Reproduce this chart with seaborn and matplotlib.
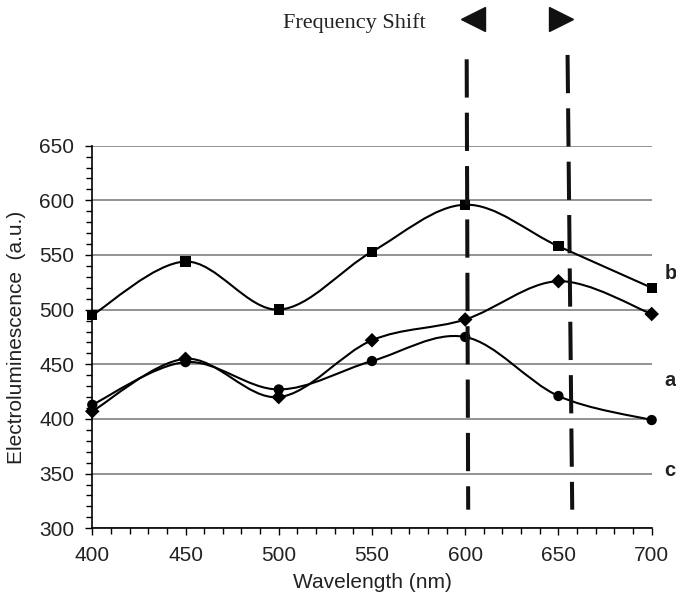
import numpy as np
import pandas as pd
import matplotlib
matplotlib.use("Agg")
import matplotlib.pyplot as plt
import seaborn as sns
from matplotlib.path import Path
from matplotlib.patches import PathPatch

# values
wavelength = [400, 450, 500, 550, 600, 650, 700]
square_vals = [495, 544, 500, 553, 596, 558, 520]
diamond_vals = [407, 455, 420, 472, 491, 526, 496]
circle_vals = [413, 452, 427, 453, 475, 421, 399]

series_names = ["square", "diamond", "circle"]
series_markers = {"square": "s", "diamond": "D", "circle": "o"}

curve_labels = ["b", "a", "c"]
label_y = [533, 435, 353]

shift_lines_x = [(600.8, 601.6), (654.9, 657.4)]
shift_lines_y = [(729, 317), (733, 317)]


def smooth_path(xs, ys):
    # Excel style smoothed line: cubic bezier with catmull-rom handles
    pts = np.column_stack([xs, ys]).astype(float)
    n = len(pts)
    verts = [pts[0]]
    codes = [Path.MOVETO]
    for i in range(n - 1):
        p_prev = pts[max(i - 1, 0)]
        p0 = pts[i]
        p1 = pts[i + 1]
        p_next = pts[min(i + 2, n - 1)]
        c1 = p0 + (p1 - p_prev) / 6.0
        c2 = p1 - (p_next - p0) / 6.0
        verts += [c1, c2, p1]
        codes += [Path.CURVE4] * 3
    return Path(verts, codes)


df = pd.DataFrame({
    "wavelength": wavelength * 3,
    "value": square_vals + diamond_vals + circle_vals,
    "series": np.repeat(series_names, len(wavelength)),
})

sns.set_theme(style="white")
plt.rcParams["font.family"] = ["Liberation Sans", "DejaVu Sans"]

fig = plt.figure(figsize=(6.76, 5.98), dpi=100)
ax = fig.add_axes([0.1365, 0.1166, 0.8275, 0.6398])

for name in series_names:
    sub = df[df["series"] == name]
    patch = PathPatch(smooth_path(sub["wavelength"], sub["value"]),
                      facecolor="none", edgecolor="black", lw=1.5, zorder=3,
                      clip_on=False)
    ax.add_patch(patch)

sns.scatterplot(data=df, x="wavelength", y="value", style="series",
                markers=series_markers, color="black", s=55, linewidth=0,
                legend=False, ax=ax, zorder=4, clip_on=False)

ax.set_xlim(400, 700)
ax.set_ylim(300, 650)
ax.set_xticks(range(400, 701, 50))
ax.set_xticks(range(400, 701, 10), minor=True)
ax.set_yticks(range(300, 651, 50))
ax.set_yticks(range(300, 651, 10), minor=True)
ax.grid(False)
ax.yaxis.grid(True, which="major", color="#808080", lw=1.2)
ax.set_axisbelow(True)
for side in ["top", "right"]:
    ax.spines[side].set_visible(False)
for side in ["left", "bottom"]:
    ax.spines[side].set_color("black")
    ax.spines[side].set_linewidth(1.2)
ax.tick_params(which="both", direction="out", color="black", width=1.0,
               left=True, bottom=True, labelsize=15, labelcolor="#222222")
ax.tick_params(which="major", length=5, pad=8)
ax.tick_params(which="minor", length=4)

ax.set_xlabel("Wavelength (nm)", fontsize=15, color="#222222")
ax.set_ylabel("Electroluminescence  (a.u.)", fontsize=15, color="#222222")
ax.xaxis.set_label_coords(0.5, -0.143)
ax.xaxis.label.set_va("center")
ax.yaxis.set_label_coords(-0.136, 0.5)
ax.yaxis.label.set_va("center")

# frequency shift markers
for xs, ys in zip(shift_lines_x, shift_lines_y):
    ax.plot(xs, ys, color="#111111", lw=2.9, dashes=(9.5, 3.75),
            solid_capstyle="butt", dash_capstyle="butt", clip_on=False, zorder=5)
ax.plot([604.1], [766], marker="<", ms=17, color="#111111", clip_on=False)
ax.plot([651.6], [766], marker=">", ms=17, color="#111111", clip_on=False)
fig.text(283 / 676, 1 - 28 / 598, "Frequency Shift", family="Liberation Serif",
         fontsize=16, color="#222222", ha="left", va="baseline")

for lab, yv in zip(curve_labels, label_y):
    ax.text(707, yv, lab, fontsize=14.5, fontweight="bold", color="#222222",
            ha="left", va="center", clip_on=False)

fig.savefig("out.png", dpi=100)
